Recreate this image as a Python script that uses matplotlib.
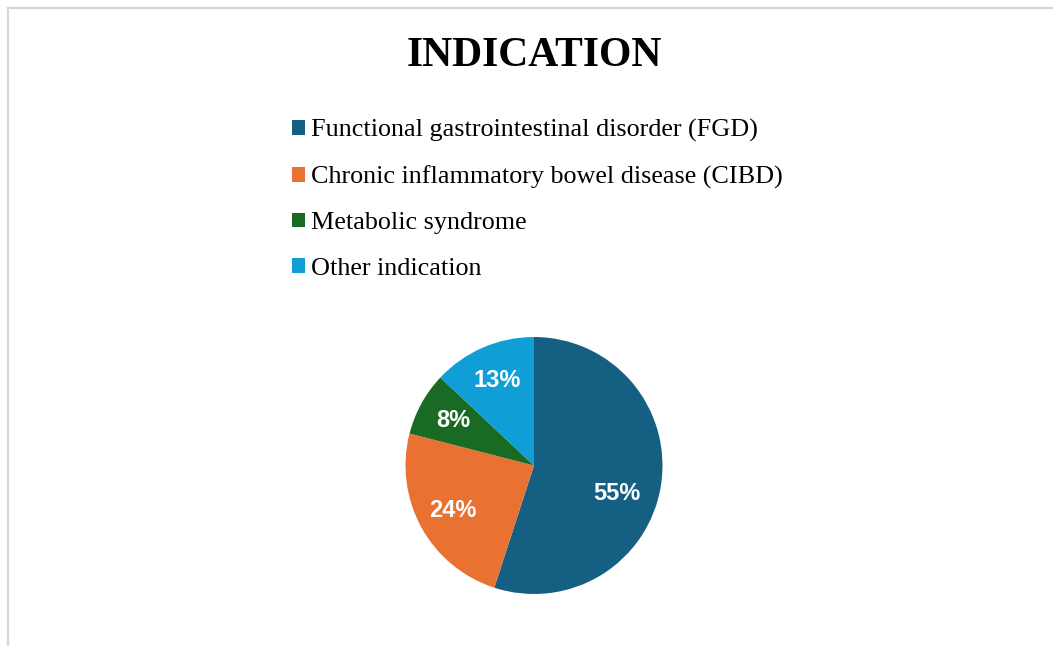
import matplotlib
matplotlib.use("Agg")
import matplotlib.pyplot as plt
from matplotlib.lines import Line2D
import numpy as np

categories = [
    "Functional gastrointestinal disorder (FGD)",
    "Chronic inflammatory bowel disease (CIBD)",
    "Metabolic syndrome",
    "Other indication",
]
shares = [55, 24, 8, 13]
colors = ["#156082", "#E97132", "#196B24", "#0F9ED5"]

W, H = 1053, 646
fig = plt.figure(figsize=(W / 100, H / 100), dpi=100)
fig.patch.set_facecolor("white")

# thin grey frame along the top and left edges
frame = dict(color="#d6d6d6", lw=1.6, transform=fig.transFigure)
fig.add_artist(Line2D([8 / W, 1], [1 - 8 / H, 1 - 8 / H], **frame))
fig.add_artist(Line2D([8 / W, 8 / W], [0, 1 - 8 / H], **frame))

# pie axes
cx, cy, r = 534, 465.5, 128.5
ax = fig.add_axes([(cx - r) / W, (H - cy - r) / H, 2 * r / W, 2 * r / H])
wedges, texts, autotexts = ax.pie(
    shares,
    colors=colors,
    startangle=90,
    counterclock=False,
    autopct="%d%%",
    pctdistance=0.72,
    wedgeprops=dict(linewidth=0),
    textprops=dict(color="white", fontsize=17, fontweight="bold",
                   family="Liberation Sans"),
)
ax.set_xlim(-1, 1)
ax.set_ylim(-1, 1)
ax.set_aspect("equal")

# the big slice label sits a little lower than the slice midpoint
ang = np.deg2rad(-18.6)
autotexts[0].set_position((0.68 * np.cos(ang), 0.68 * np.sin(ang)))

fig.text(534 / W, 1 - 56 / H, "INDICATION", ha="center", va="center",
         fontsize=30, fontweight="bold", family="Liberation Serif")

leg = fig.legend(
    wedges, categories,
    loc="upper left",
    bbox_to_anchor=(292 / W, 1 - 119 / H),
    frameon=False,
    prop=dict(family="Liberation Serif", size=18.8),
    handlelength=0.48,
    handleheight=0.48,
    handletextpad=0.24,
    labelspacing=0.9,
    borderpad=0,
    borderaxespad=0,
)

fig.savefig("out.png", dpi=100)
